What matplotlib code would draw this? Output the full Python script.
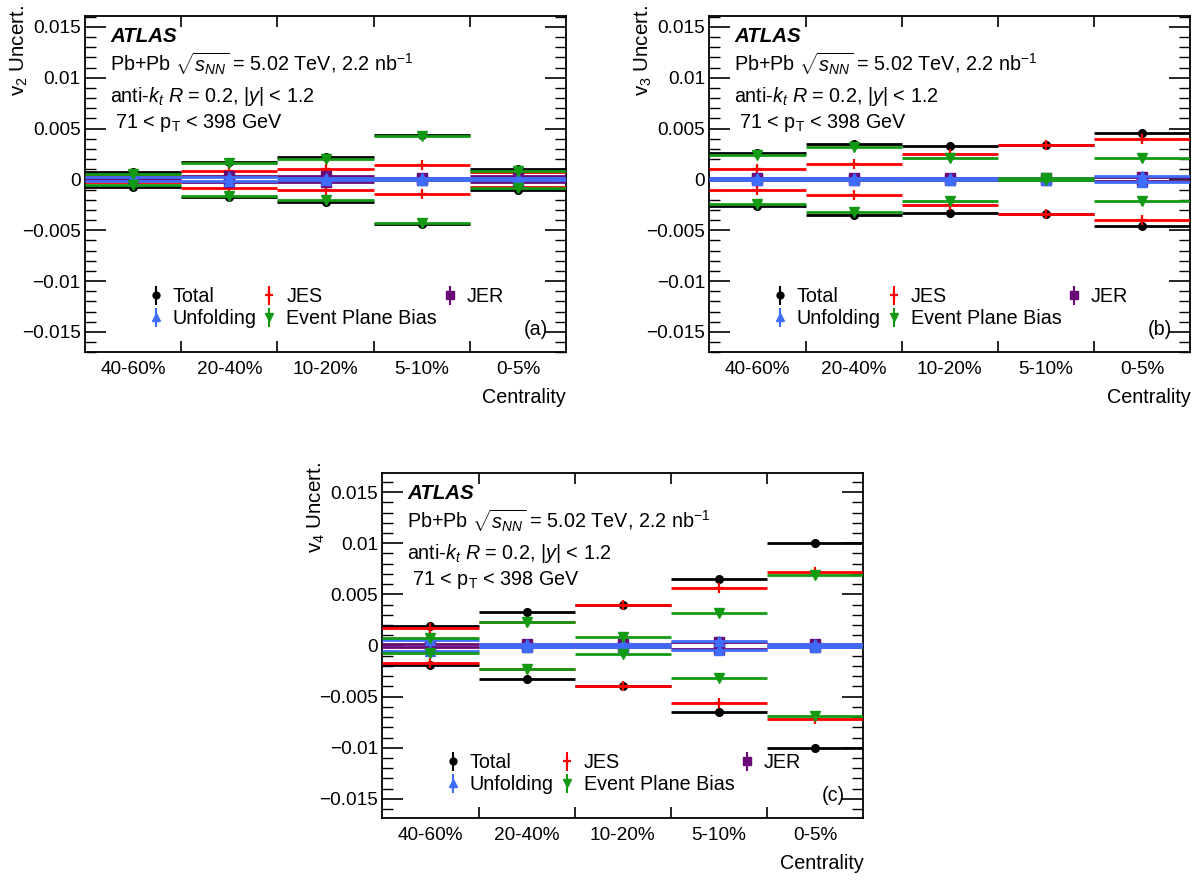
import numpy as np
import matplotlib
matplotlib.use("Agg")
import matplotlib.pyplot as plt
from matplotlib.ticker import MultipleLocator, FixedLocator, FuncFormatter, NullFormatter, FixedFormatter

plt.rcParams['font.family'] = ['Liberation Sans', 'DejaVu Sans']
plt.rcParams['mathtext.fontset'] = 'custom'
plt.rcParams['mathtext.rm'] = 'Liberation Sans'
plt.rcParams['mathtext.it'] = 'Liberation Sans:italic'
plt.rcParams['mathtext.bf'] = 'Liberation Sans:bold'

# ---------------- data ----------------
centrality = ["40-60%", "20-40%", "10-20%", "5-10%", "0-5%"]
series_names = ["Total", "JES", "JER", "Unfolding", "Event Plane Bias"]

v2_total = [0.0007, 0.00175, 0.0022, 0.0044, 0.0010]
v2_jes = [0.0003, 0.0008, 0.0010, 0.0014, 0.0007]
v2_jer = [0.0001, 0.0003, 0.0003, 0.0001, 0.0003]
v2_unfold = [0.0002, 0.0002, 0.0001, 0.0001, 0.0001]
v2_epb = [0.0005, 0.0016, 0.0020, 0.0043, 0.0008]

v3_total = [0.0026, 0.0035, 0.0033, 0.0034, 0.0046]
v3_jes = [0.0010, 0.0015, 0.0025, 0.0034, 0.0040]
v3_jer = [0.0001, 0.0001, 0.0001, 0.0001, 0.0002]
v3_unfold = [0.0001, 0.0001, 0.0001, 0.0001, 0.0003]
v3_epb = [0.0024, 0.0032, 0.0021, 0.0001, 0.0021]

v4_total = [0.0019, 0.0033, 0.0040, 0.0065, 0.0100]
v4_jes = [0.0017, 0.0023, 0.0040, 0.0056, 0.0072]
v4_jer = [0.0001, 0.0001, 0.0001, 0.0003, 0.0001]
v4_unfold = [0.0005, 0.0001, 0.0001, 0.0004, 0.0001]
v4_epb = [0.0007, 0.0023, 0.0008, 0.0032, 0.0069]

panels = [
    ("v$_2$ Uncert.", "(a)", [v2_total, v2_jes, v2_jer, v2_unfold, v2_epb]),
    ("v$_3$ Uncert.", "(b)", [v3_total, v3_jes, v3_jer, v3_unfold, v3_epb]),
    ("v$_4$ Uncert.", "(c)", [v4_total, v4_jes, v4_jer, v4_unfold, v4_epb]),
]

# ---------------- styles ----------------
colors = ["black", "#ff0000", "#6a0a78", "#3d6dfa", "#139a13"]
markers = ["o", "+", "s", "^", "v"]
msizes = [5.5, 7, 6.5, 7, 6.5]
mews = [1, 1.6, 1, 1, 1]

W, H = 1204, 882
fig = plt.figure(figsize=(W / 100, H / 100), dpi=100)

rects = [
    (85, 15.7, 566, 352.3),
    (709.3, 15.7, 1190.3, 352.3),
    (382.3, 472.7, 863.3, 818.3),
]
ylims = [(-0.017, 0.0161), (-0.017, 0.0161), (-0.0169, 0.0169)]

fs_text = 14.2
fs_tick = 13.7


def yfmt(v, pos):
    if abs(v) < 1e-12:
        return "0"
    s = "%g" % v
    return s.replace("-", "\u2212")


for (ylabel, tag, data), (x0, y0, x1, y1), ylim in zip(panels, rects, ylims):
    ax = fig.add_axes([x0 / W, 1 - y1 / H, (x1 - x0) / W, (y1 - y0) / H])
    xc = np.arange(len(centrality))
    for i, vals in enumerate(data):
        v = np.asarray(vals)
        xx = np.concatenate([xc, xc])
        yy = np.concatenate([v, -v])
        ax.errorbar(xx, yy, xerr=0.5, fmt=markers[i], color=colors[i],
                    ecolor=colors[i], elinewidth=2.0, markersize=msizes[i],
                    markeredgewidth=mews[i], capsize=0, zorder=2 + i)
    ax.set_xlim(-0.5, len(centrality) - 0.5)
    ax.set_ylim(*ylim)

    # x ticks: boundaries (marks), centres (labels)
    ax.xaxis.set_major_locator(FixedLocator(np.arange(0.5, len(centrality) - 0.5, 1.0)))
    ax.xaxis.set_major_formatter(NullFormatter())
    ax.xaxis.set_minor_locator(FixedLocator(xc))
    ax.xaxis.set_minor_formatter(FixedFormatter(centrality))
    ax.tick_params(axis='x', which='major', direction='in', length=8, width=1.2,
                   top=True, bottom=True)
    ax.tick_params(axis='x', which='minor', length=0, labelsize=fs_tick, pad=6)

    ax.yaxis.set_major_locator(MultipleLocator(0.005))
    ax.yaxis.set_minor_locator(MultipleLocator(0.001))
    ax.yaxis.set_major_formatter(FuncFormatter(yfmt))
    ax.tick_params(axis='y', which='major', direction='in', length=15, width=1.2,
                   left=True, right=True, labelsize=fs_tick, pad=3)
    ax.tick_params(axis='y', which='minor', direction='in', length=8, width=1.0,
                   left=True, right=True)
    for sp in ax.spines.values():
        sp.set_linewidth(1.3)

    # y label (top-aligned, ROOT style)
    ax.text(-66 / (x1 - x0), 1 + 10.5 / (y1 - y0), ylabel, transform=ax.transAxes,
            rotation=90, ha='center', va='top', fontsize=fs_text + 0.6)
    # x label
    ax.text(1.0, -(50.5) / (y1 - y0), "Centrality", transform=ax.transAxes,
            ha='right', va='baseline', fontsize=fs_text)

    # annotation block
    hpx = (y1 - y0)
    tx = 25 / (x1 - x0)
    ax.text(tx, 1 - 26 / hpx, "ATLAS", transform=ax.transAxes, fontsize=14.8,
            fontweight='bold', fontstyle='italic', va='baseline')
    ax.text(tx, 1 - 55.5 / hpx, r"Pb+Pb $\sqrt{s_{NN}}$ = 5.02 TeV, 2.2 nb$^{\mathrm{-1}}$",
            transform=ax.transAxes, fontsize=fs_text, va='baseline')
    ax.text(tx, 1 - 86 / hpx, r"anti-$k_{t}$ $R$ = 0.2, |$y$| < 1.2",
            transform=ax.transAxes, fontsize=fs_text, va='baseline')
    ax.text(tx, 1 - 112.5 / hpx, r" 71 < p$_{\mathrm{T}}$ < 398 GeV",
            transform=ax.transAxes, fontsize=fs_text, va='baseline')
    ax.text(1 - 18 / (x1 - x0), 17 / hpx, tag, transform=ax.transAxes,
            fontsize=fs_text, ha='right', va='baseline')

    # legend proxies (marker with vertical bar)
    handles = []
    for i in range(len(series_names)):
        h = ax.errorbar([np.nan], [np.nan], yerr=[1.0], fmt=markers[i], color=colors[i],
                        markersize=msizes[i] * 0.9, markeredgewidth=mews[i], elinewidth=1.5,
                        capsize=0, label=series_names[i])
        handles.append(h)
    order = [0, 3, 1, 4, 2]
    ax.legend([handles[k] for k in order], [series_names[k] for k in order],
              ncol=3, frameon=False, fontsize=fs_text, loc='lower left',
              bbox_to_anchor=(64 / (x1 - x0), 24 / hpx), borderpad=0,
              borderaxespad=0, handlelength=0.7, handletextpad=0.5,
              columnspacing=0.3, labelspacing=0.15)

fig.savefig("out.png", dpi=100)
